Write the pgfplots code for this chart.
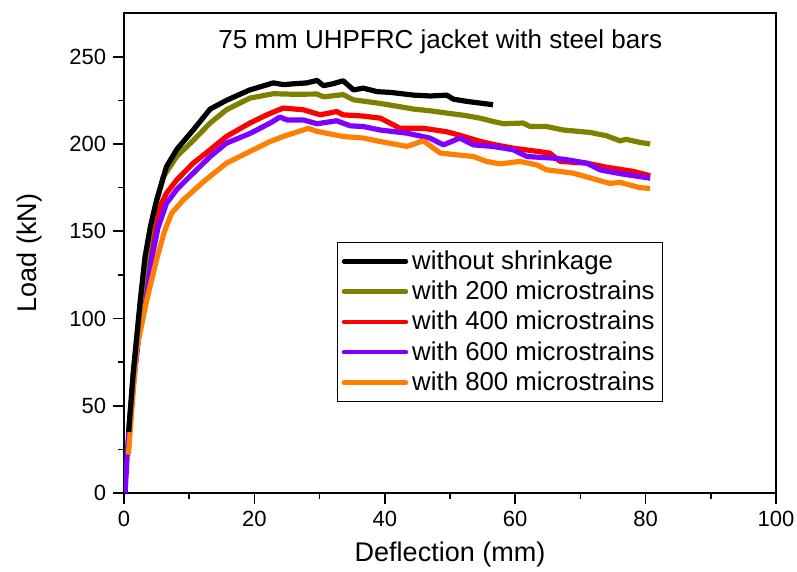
\documentclass[border=0pt]{standalone}
\usepackage{fontspec}
\setmainfont{Liberation Sans}
\usepackage{pgfplots}
\pgfplotsset{compat=1.18}
\definecolor{cblack}{HTML}{000000}
\definecolor{colive}{HTML}{808000}
\definecolor{cred}{HTML}{FF0000}
\definecolor{cpurple}{HTML}{8000FF}
\definecolor{corange}{HTML}{FF8000}

\begin{document}
\begin{tikzpicture}
\begin{axis}[
  scale only axis,
  width=11.45cm, height=8.43cm,
  xmin=0, xmax=100, ymin=0, ymax=275,
  xtick={0,20,...,100}, ytick={0,50,...,250},
  minor x tick num=1, minor y tick num=1,
  tick pos=left, tick align=outside,
  major tick length=5.5pt, minor tick length=3pt,
  every tick/.style={black, line width=0.8pt},
  axis line style={line width=1pt},
  /pgf/number format/assume math mode=true,
  tick label style={font=\fontsize{11}{13}\selectfont},
  label style={font=\fontsize{13.5}{16}\selectfont},
  xlabel={Deflection (mm)}, ylabel={Load (kN)},
  xlabel style={yshift=-1pt},
  ylabel style={yshift=6.5pt},
  legend cell align=left,
  legend style={at={(rel axis cs:0.327,0.523)}, anchor=north west,
    draw=black, line width=0.5pt, font=\fontsize{12.9}{15}\selectfont,
    row sep=0.3pt, inner sep=2pt},
  legend image code/.code={\draw[#1, line cap=round] (0cm,0cm) -- (1.09cm,0cm);},
  every axis plot/.append style={line width=2.6pt, line join=round},
]
\addlegendimage{cblack, line width=2.2pt}
\addlegendentry{without shrinkage}
\addlegendimage{colive, line width=2.2pt}
\addlegendentry{with 200 microstrains}
\addlegendimage{cred, line width=2.2pt}
\addlegendentry{with 400 microstrains}
\addlegendimage{cpurple, line width=2.2pt}
\addlegendentry{with 600 microstrains}
\addlegendimage{corange, line width=2.2pt}
\addlegendentry{with 800 microstrains}

% 400
\addplot[cred, forget plot] coordinates {
(0.7,30) (1.4,62) (2.5,100) (3.5,128) (4.5,150) (5.5,164) (6.5,171.8) (8.1,179.5)
(10.6,189) (13.2,196.7) (15.7,204.3) (19.3,212) (21.9,216.7) (24.4,220.6) (27.5,219.6)
(30.1,216.7) (32.6,218.6) (33.6,216.7) (36.7,216) (39.3,214.8) (41.3,211) (42.3,209)
(45.9,209) (49.5,207) (51.5,205) (54.6,201.5) (57,199.5) (59.7,197.6) (65.3,194.8)
(66.9,190) (71,189) (74,186.7) (78.1,184.3) (80.7,181.8)};
% 600
\addplot[cpurple, forget plot] coordinates {
(0.15,0) (0.6,30) (1.4,62) (2.5,99) (4.0,130) (5.2,152) (6.5,166) (8.1,174)
(10.6,183.3) (13.2,192.8) (15.7,200.5) (19.3,206) (22.4,212) (23.9,215.4) (25,213.8)
(27.5,213.8) (29.6,211.6) (32.6,213.3) (34.7,210.4) (36.7,210) (39.3,208) (43.4,206.2)
(46.9,203.4) (49,199.5) (51.5,203.4) (53.6,199.5) (56.6,198.6) (59.7,196.7) (61.8,192.8)
(65.8,191.9) (67.9,191) (71,189) (73,185.2) (76.1,183) (80.7,180.4)};
% 800
\addplot[corange, forget plot] coordinates {
(0.6,22) (0.7,24) (1.9,82) (3.5,111) (5.0,134) (6.2,150) (7.3,160.4) (9.1,168)
(12.2,178.5) (15.7,189) (19.3,195.7) (22.4,201.4) (24.4,204.3) (28.3,209) (29.6,207.2)
(33.6,204.3) (36.7,203.4) (39.3,201.4) (43.4,198.6) (45.9,201.8) (48.5,194.8) (53.6,192.8)
(55.6,190) (57.7,188.6) (60.7,190) (63.3,188) (64.8,185.2) (68.9,183.3) (72.5,179.5)
(74.5,177.4) (76.1,178) (79.1,175) (80.7,174.5)};
% 200
\addplot[colive, forget plot] coordinates {
(0.7,35) (1.4,68) (2.5,108) (3.5,138) (4.5,160) (6.0,181) (8.1,193) (10.6,202)
(13.2,212) (15.7,219.6) (19.3,226.3) (22.9,228.8) (26,228.5) (29.6,228.6) (30.6,227)
(33.6,228.3) (35.2,225.3) (38.8,223.5) (41.3,222) (44.4,220) (47,219) (49.5,217.7)
(52,216.5) (54.6,214.8) (56.5,213) (58.2,211.6) (61.2,212) (62.3,210) (64.8,210)
(67.4,208) (71.5,206.6) (74,204.7) (76.1,201.8) (77,202.7) (79,201) (80.7,200)};
% without shrinkage
\addplot[cblack, forget plot] coordinates {
(0.7,35) (1.4,69) (2.0,92) (2.5,111) (3.2,135) (4.0,152) (5.0,168) (6.5,187) (8.1,197)
(10.6,208) (13.2,220) (15.7,225) (19.3,231) (22.9,235) (24.5,234) (26,234.5) (28,235)
(29.6,236.4) (30.6,233.4) (32,234.5) (33.6,236.2) (35.2,231) (36.7,232) (38.8,230)
(41,229.5) (44.4,228) (47,227.5) (49.5,228) (50.5,225.7) (52.6,224.4) (54.5,223.5)
(56.6,222.5)};

\node[font=\fontsize{13}{15}\selectfont] at (rel axis cs:0.485,0.94)
  {75 mm UHPFRC jacket with steel bars};
\end{axis}
\pgfresetboundingbox
\path[use as bounding box]
  ([shift={(-2.18cm,-1.37cm)}]current axis.south west) rectangle
  ([shift={(0.37cm,0.23cm)}]current axis.north east);
\end{tikzpicture}
\end{document}
